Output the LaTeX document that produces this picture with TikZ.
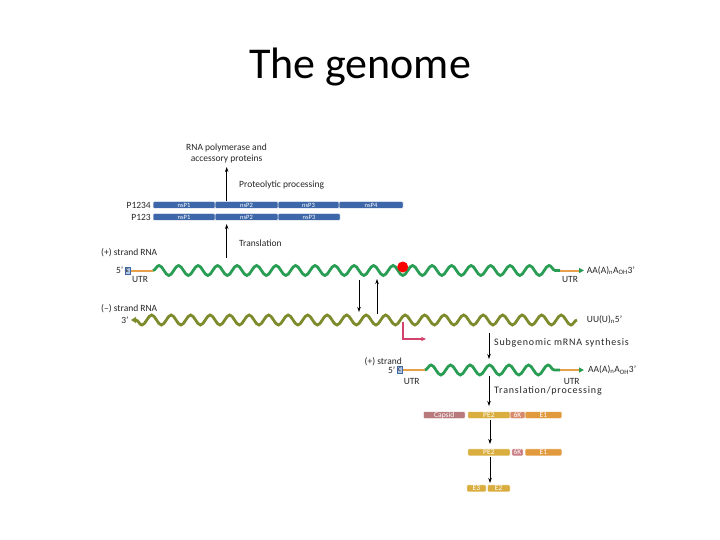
\documentclass[tikz,border=0pt]{standalone}
\usepackage{fontspec}
\setmainfont{Carlito}
\usetikzlibrary{arrows.meta,decorations.pathmorphing}
\definecolor{barblue}{HTML}{3D67A8}
\definecolor{rnagreen}{HTML}{2A9D55}
\definecolor{rnaolive}{HTML}{7E8B2C}
\definecolor{utrorange}{HTML}{E9A04A}
\definecolor{capblue}{HTML}{B3C6E0}
\definecolor{capsidred}{HTML}{B87A7C}
\definecolor{pegold}{HTML}{DAAE3E}
\definecolor{eorange}{HTML}{E29A3E}
\definecolor{sixkpink}{HTML}{C97C82}
\definecolor{sixksalmon}{HTML}{D88B6A}
\definecolor{promred}{HTML}{D2426A}

\begin{document}
\begin{tikzpicture}[x=1pt,y=-1pt,
    lbl/.style={font=\fontsize{9.5}{11}\selectfont, text=black!85, inner sep=0pt},
    widelbl/.style={lbl, font=\fontsize{10}{11}\selectfont\addfontfeature{LetterSpace=8}},
    seg/.style={fill=#1, draw=white, line width=.5pt, rounded corners=1pt,
        minimum height=7pt, inner sep=0pt, text=white, font=\fontsize{7.5}{7}\selectfont},
    ns/.style={seg=barblue, font=\fontsize{6.5}{6}\selectfont},
    arr/.style={-{Stealth[length=5pt,width=3.5pt]}, line width=.8pt},
    wave/.style={line width=2.8pt, draw=#1, decorate,
        decoration={snake, segment length=19.5pt, amplitude=5pt}},
    utr/.style={line width=2pt, draw=utrorange},
    capbox/.style={fill=capblue, draw=barblue, line width=.5pt, minimum width=5.5pt,
        minimum height=7pt, inner sep=0pt, font=\fontsize{5.5}{5}\selectfont}]
    \useasboundingbox (0,0) rectangle (720,540);
    \node[font=\fontsize{44}{50}\selectfont, anchor=base] (title) at (360,79) {The genome};

    % nonstructural polyproteins
    \node[lbl, align=center] (rnapol) at (226.5,153) {RNA polymerase and\\accessory proteins};
    \node[lbl, anchor=east] (p1234) at (151,205) {P1234};
    \node[lbl, anchor=east] (p123) at (151,217) {P123};
    \foreach \i/\c/\w in {1/184/62,2/246.5/63,3/308.5/61,4/371/64}
        {\node[ns, minimum width=\w pt] (a\i) at (\c,205) {nsP\i};}
    \foreach \i/\c/\w in {1/184/62,2/246.5/63,3/309/62}
        {\node[ns, minimum width=\w pt] (b\i) at (\c,217) {nsP\i};}
    \coordinate (procA) at (226.7,201.5);
    \coordinate (procB) at (226.7,167);
    \draw[arr] (procA) -- (procB);
    \node[lbl, anchor=west] (proteo) at (239,185) {Proteolytic processing};
    \coordinate (transA) at (226.7,258);
    \coordinate (transB) at (226.7,224);
    \draw[arr] (transA) -- (transB);
    \node[lbl, anchor=west] (transl) at (239,243) {Translation};

    % genomic (+) strand
    \node[lbl, anchor=west] (plusrna) at (101,253) {(+) strand RNA};
    \node[capbox] (capA) at (127.5,270.5) {E};
    \node[lbl, anchor=east] (fiveA) at ([xshift=-1pt]capA.west) {5'};
    \coordinate (gA) at (153,270.5);
    \coordinate (gB) at (560,270.5);
    \coordinate (gC) at (584,270.5);
    \draw[utr] (capA.east) -- (gA);
    \draw[wave=rnagreen] (gA) -- (gB);
    \draw[utr, -{Triangle[length=5pt,width=5pt,color=rnagreen]}] (gB) -- (gC);
    \node[lbl, anchor=west] (polyA) at (586.7,270.5) {AA(A)\textsubscript{n}A\textsubscript{OH}3'};
    \node[lbl] (utrA) at (140,279.5) {UTR};
    \node[lbl] (utrB) at (570,279.5) {UTR};
    \node[circle, fill=red, inner sep=0pt, minimum size=11pt] (sgprom) at (402.7,267) {};

    % replication
    \coordinate (dnA) at (359,280);
    \coordinate (dnB) at (359,312);
    \draw[arr] (dnA) -- (dnB);
    \coordinate (upA) at (377,314);
    \coordinate (upB) at (377,279);
    \draw[arr] (upA) -- (upB);

    % (-) strand
    \node[lbl, anchor=west] (minusrna) at (101,309) {(--) strand RNA};
    \node[lbl] (threeM) at (125,320) {3'};
    \coordinate (mA) at (577,320);
    \coordinate (mB) at (131,320);
    \draw[wave=rnaolive, -{Triangle[length=5pt,width=6pt]}] (mA) -- (mB);
    \node[lbl, anchor=west] (polyU) at (586.7,320) {UU(U)\textsubscript{n}5'};
    \coordinate (sgA) at (403,322);
    \coordinate (sgB) at (426,339);
    \draw[promred, line width=1.3pt, -{Stealth[length=5pt,width=4.5pt]}] (sgA) |- (sgB);

    % subgenomic mRNA
    \coordinate (synA) at (489,333);
    \coordinate (synB) at (489,359);
    \draw[arr] (synA) -- (synB);
    \node[widelbl, anchor=west] (synth) at (494,343) {Subgenomic mRNA synthesis};
    \node[lbl, anchor=east] (plussg) at (402,361.7) {(+) strand};
    \node[capbox] (capB) at (399.5,370) {C};
    \node[lbl, anchor=east] (fiveB) at ([xshift=-1pt]capB.west) {5'};
    \coordinate (sA) at (425,370);
    \coordinate (sB) at (560,370);
    \coordinate (sC) at (584,370);
    \draw[utr] (capB.east) -- (sA);
    \draw[wave=rnagreen] (sA) -- (sB);
    \draw[utr, -{Triangle[length=5pt,width=5pt,color=rnagreen]}] (sB) -- (sC);
    \node[lbl, anchor=west] (polyB) at (588,370) {AA(A)\textsubscript{n}A\textsubscript{OH}3'};
    \node[lbl] (utrC) at (411.7,381.7) {UTR};
    \node[lbl] (utrD) at (571.7,381.7) {UTR};
    \coordinate (tpA) at (489,376);
    \coordinate (tpB) at (489,406);
    \draw[arr] (tpA) -- (tpB);
    \node[widelbl, anchor=west] (transproc) at (494,390.7) {Translation/processing};

    % structural proteins
    \foreach \n/\c/\w/\col/\t in {capsid/444.2/41.7/capsidred/Capsid,pe/488.9/42.3/pegold/PE2,
            sixk/517.5/15/sixksalmon/6K,eone/543.4/36.7/eorange/E1}
        {\node[seg=\col, minimum width=\w pt] (r1\n) at (\c,415) {\t};}
    \foreach \n/\c/\w/\col/\t in {pe/488.9/42.3/pegold/PE2,sixk/517.4/11.3/sixkpink/6K,
            eone/543.4/36.7/eorange/E1}
        {\node[seg=\col, minimum width=\w pt] (r2\n) at (\c,452.3) {\t};}
    \foreach \n/\c/\w/\col/\t in {ethree/476.4/19.3/pegold/E3,etwo/498.7/22.7/pegold/E2}
        {\node[seg=\col, minimum width=\w pt] (r3\n) at (\c,488.3) {\t};}
    \coordinate (cleaveA) at (490,419.5);
    \coordinate (cleaveB) at (490,444);
    \draw[arr] (cleaveA) -- (cleaveB);
    \coordinate (cleaveC) at (490,456.5);
    \coordinate (cleaveD) at (490,483);
    \draw[arr] (cleaveC) -- (cleaveD);
\end{tikzpicture}
\end{document}
